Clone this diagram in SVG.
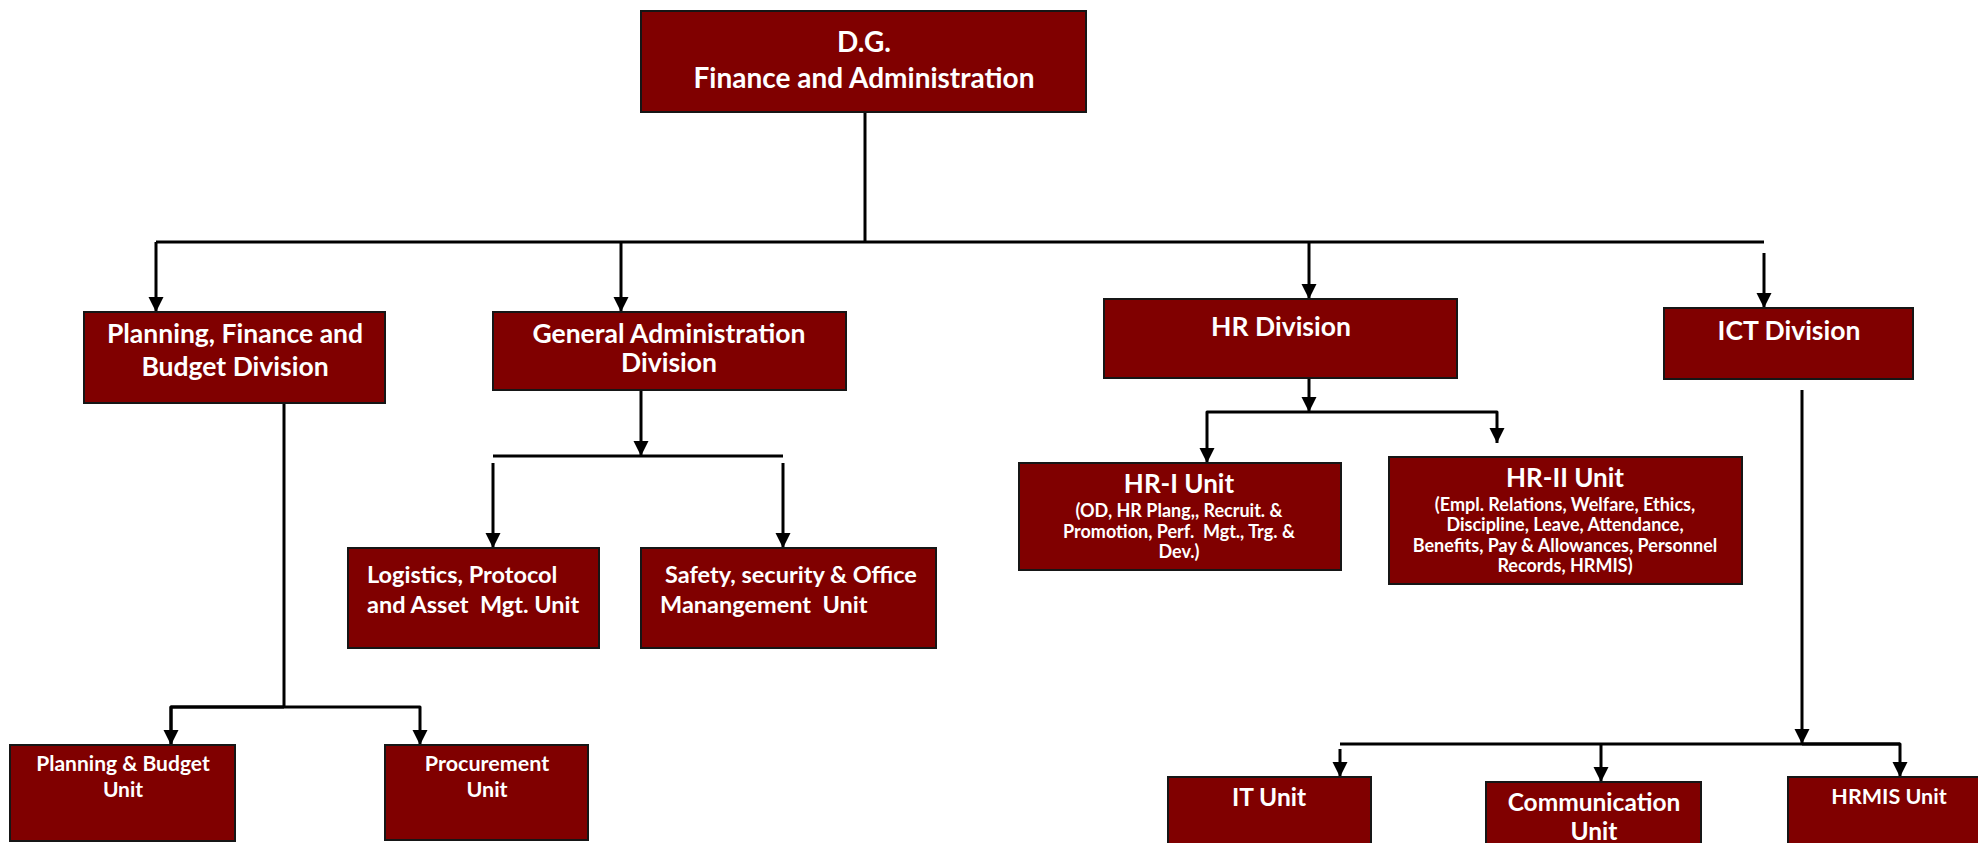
<svg xmlns="http://www.w3.org/2000/svg" width="1978" height="843" viewBox="0 0 1978 843">
  <style>
    .box { fill: #800000; stroke: #161616; stroke-width: 2; }
    .t { font-family: Lato, "Liberation Sans", sans-serif; font-weight: bold; fill: #ffffff; }
    .c { text-anchor: middle; }
    .div { font-size: 26.5px; }
    .sub { font-size: 18px; }
    .wire { fill: none; stroke: #000000; stroke-width: 3; stroke-linejoin: round; }
    .arr { fill: none; stroke: #000000; stroke-width: 3; stroke-linejoin: round; marker-end: url(#head); }
  </style>
  <defs>
    <marker id="head" markerUnits="userSpaceOnUse" markerWidth="16" markerHeight="16" refX="15" refY="8" orient="auto">
      <path d="M0,0.5 L15,8 L0,15.5 z" fill="#000000"/>
    </marker>
  </defs>
  <rect width="1978" height="843" fill="#ffffff"/>

  <!-- connectors -->
  <g id="connectors">
    <!-- D.G. to divisions -->
    <path class="wire" d="M865,112 V242"/>
    <path class="arr" d="M156,242 H1764 M156,242 V312"/>
    <path class="arr" d="M621,242 V312"/>
    <path class="arr" d="M1309,242 V299"/>
    <path class="arr" d="M1764,253 V308"/>
    <!-- Planning, Finance and Budget Division -->
    <path class="wire" d="M284,403 V707"/>
    <path class="arr" d="M171,744 V707 H420 V745"/>
    <path class="arr" d="M284,707 H171 V745"/>
    <!-- General Administration Division -->
    <path class="arr" d="M641,390 V456"/>
    <path class="wire" d="M493,456 H783"/>
    <path class="arr" d="M493,463 V548"/>
    <path class="arr" d="M783,463 V548"/>
    <!-- HR Division -->
    <path class="arr" d="M1309,378 V412"/>
    <path class="arr" d="M1309,412 H1207 V463"/>
    <path class="arr" d="M1309,412 H1497 V443"/>
    <!-- ICT Division -->
    <path class="arr" d="M1802,390 V744"/>
    <path class="wire" d="M1340,744 H1900"/>
    <path class="arr" d="M1340,749 V777"/>
    <path class="arr" d="M1601,744 V782"/>
    <path class="arr" d="M1802,744 H1900 V777"/>
  </g>

  <g id="dg">
    <rect class="box" x="641" y="11" width="445" height="101"/>
    <text class="t c" x="864" y="52" font-size="28">D.G.</text>
    <text class="t c" x="864" y="88" font-size="28">Finance and Administration</text>
  </g>

  <g id="pfb-division">
    <rect class="box" x="84" y="312" width="301" height="91"/>
    <text class="t c div" x="235" y="343">Planning, Finance and</text>
    <text class="t c div" x="235" y="376">Budget Division</text>
  </g>

  <g id="ga-division">
    <rect class="box" x="493" y="312" width="353" height="78"/>
    <text class="t c div" x="669" y="343">General Administration</text>
    <text class="t c div" x="669" y="372">Division</text>
  </g>

  <g id="hr-division">
    <rect class="box" x="1104" y="299" width="353" height="79"/>
    <text class="t c div" x="1281" y="336">HR Division</text>
  </g>

  <g id="ict-division">
    <rect class="box" x="1664" y="308" width="249" height="71"/>
    <text class="t c div" x="1789" y="340">ICT Division</text>
  </g>

  <g id="logistics-unit">
    <rect class="box" x="348" y="548" width="251" height="100"/>
    <text class="t" x="367" y="583" font-size="23.5">Logistics, Protocol</text>
    <text class="t" x="367" y="613" font-size="23.5" xml:space="preserve">and Asset  Mgt. Unit</text>
  </g>

  <g id="safety-unit">
    <rect class="box" x="641" y="548" width="295" height="100"/>
    <text class="t" x="665" y="583" font-size="23.5">Safety, security &amp; Office</text>
    <text class="t" x="660" y="613" font-size="23.5" xml:space="preserve">Manangement  Unit</text>
  </g>

  <g id="hr1-unit">
    <rect class="box" x="1019" y="463" width="322" height="107"/>
    <text class="t c" x="1179" y="493" font-size="26">HR-I Unit</text>
    <text class="t c sub" x="1179" y="517">(OD, HR Plang,, Recruit. &amp;</text>
    <text class="t c sub" x="1179" y="538" xml:space="preserve">Promotion, Perf.  Mgt., Trg. &amp;</text>
    <text class="t c sub" x="1179" y="558">Dev.)</text>
  </g>

  <g id="hr2-unit">
    <rect class="box" x="1389" y="457" width="353" height="127"/>
    <text class="t c" x="1565" y="487" font-size="26">HR-II Unit</text>
    <text class="t c sub" x="1565" y="511">(Empl. Relations, Welfare, Ethics,</text>
    <text class="t c sub" x="1565" y="531">Discipline, Leave, Attendance,</text>
    <text class="t c sub" x="1565" y="552">Benefits, Pay &amp; Allowances, Personnel</text>
    <text class="t c sub" x="1565" y="572">Records, HRMIS)</text>
  </g>

  <g id="planning-budget-unit">
    <rect class="box" x="10" y="745" width="225" height="96"/>
    <text class="t c" x="123" y="771" font-size="21">Planning &amp; Budget</text>
    <text class="t c" x="123" y="797" font-size="21">Unit</text>
  </g>

  <g id="procurement-unit">
    <rect class="box" x="385" y="745" width="203" height="95"/>
    <text class="t c" x="487" y="771" font-size="21.5">Procurement</text>
    <text class="t c" x="487" y="797" font-size="21.5">Unit</text>
  </g>

  <g id="it-unit">
    <rect class="box" x="1168" y="777" width="203" height="80"/>
    <text class="t c" x="1269" y="806" font-size="24.5">IT Unit</text>
  </g>

  <g id="communication-unit">
    <rect class="box" x="1486" y="782" width="215" height="75"/>
    <text class="t c" x="1594" y="811" font-size="24.5">Communication</text>
    <text class="t c" x="1594" y="840" font-size="24.5">Unit</text>
  </g>

  <g id="hrmis-unit">
    <rect class="box" x="1788" y="777" width="210" height="80"/>
    <text class="t c" x="1889" y="804" font-size="21.5">HRMIS Unit</text>
  </g>
</svg>
